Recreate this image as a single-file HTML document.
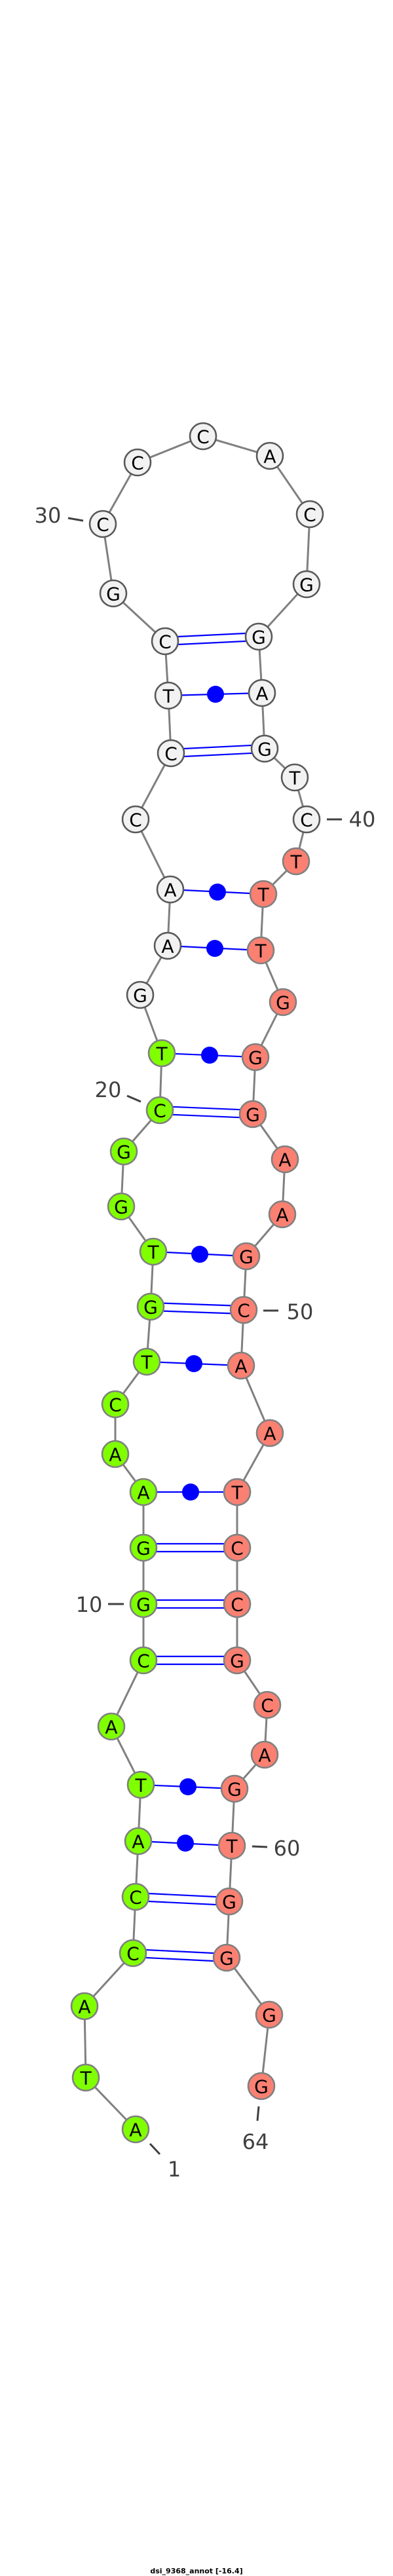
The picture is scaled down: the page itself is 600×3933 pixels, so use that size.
<!DOCTYPE html>
<html><head><meta charset="utf-8"><style>
html,body{margin:0;padding:0;background:#fff}
svg{display:block}
.bb{stroke:#808080;stroke-width:3;fill:none}
.pl{stroke:#0000ff;stroke-width:2.2}
.g{fill:#7fff00;stroke:#808080;stroke-width:2.6}
.w{fill:#f2f2f2;stroke:#595959;stroke-width:2.6}
.r{fill:#fa8072;stroke:#808080;stroke-width:2.6}
.t{font-family:"DejaVu Sans","Liberation Sans",sans-serif;font-size:28px;text-anchor:middle;dominant-baseline:central;fill:#000}
.lb{font-family:"DejaVu Sans","Liberation Sans",sans-serif;font-size:32px;fill:#404040;text-anchor:middle;dominant-baseline:central}
.tk{stroke:#404040;stroke-width:3}
</style></head><body>
<svg width="600" height="3933" viewBox="0 0 600 3933" xmlns="http://www.w3.org/2000/svg">
<polyline class="bb" points="207,3251 131,3172 129,3063 203,2982 207,2896 211,2811 215,2725 170,2636 219,2535 219,2449 219,2363 219,2278 176,2220 176,2144 224,2079 230,1995 234,1911 185,1842 189,1758 244,1695 247,1608 214,1519 256,1444 260,1358 207,1251 261,1150 257,1062 252,979 173,906 157,800 210,706 310,666 412,696 473,785 468,892 395,972 400,1058 404,1143 450,1187 468,1251 452,1315 402,1365 398,1451 432,1530 390,1614 386,1701 435,1770 431,1854 376,1918 372,2000 368,2085 412,2188 362,2278 362,2363 362,2449 362,2535 408,2603 404,2679 358,2731 354,2818 350,2903 346,2989 411,3076 399,3185"/>
<g class="pl">
<line x1="203" y1="2976" x2="346" y2="2983"/><line x1="203" y1="2988" x2="346" y2="2995"/>
<line x1="207" y1="2890" x2="350" y2="2897"/><line x1="207" y1="2902" x2="350" y2="2909"/>
<line x1="219" y1="2529" x2="362" y2="2529"/><line x1="219" y1="2541" x2="362" y2="2541"/>
<line x1="219" y1="2443" x2="362" y2="2443"/><line x1="219" y1="2455" x2="362" y2="2455"/>
<line x1="219" y1="2357" x2="362" y2="2357"/><line x1="219" y1="2369" x2="362" y2="2369"/>
<line x1="230" y1="1989" x2="372" y2="1994"/><line x1="230" y1="2001" x2="372" y2="2006"/>
<line x1="244" y1="1689" x2="386" y2="1695"/><line x1="244" y1="1701" x2="386" y2="1707"/>
<line x1="261" y1="1144" x2="404" y2="1137"/><line x1="261" y1="1156" x2="404" y2="1149"/>
<line x1="252" y1="973" x2="395" y2="966"/><line x1="252" y1="985" x2="395" y2="978"/>
<line x1="211" y1="2811" x2="354" y2="2818"/>
<line x1="215" y1="2725" x2="358" y2="2731"/>
<line x1="219" y1="2278" x2="362" y2="2278"/>
<line x1="224" y1="2079" x2="368" y2="2085"/>
<line x1="234" y1="1911" x2="376" y2="1918"/>
<line x1="247" y1="1608" x2="390" y2="1614"/>
<line x1="256" y1="1444" x2="398" y2="1451"/>
<line x1="260" y1="1358" x2="402" y2="1365"/>
<line x1="257" y1="1062" x2="400" y2="1058"/>
</g>
<g fill="#0000ff">
<circle cx="283" cy="2814" r="13"/><circle cx="287" cy="2728" r="13"/><circle cx="291" cy="2278" r="13"/>
<circle cx="296" cy="2082" r="13"/><circle cx="305" cy="1915" r="13"/><circle cx="320" cy="1611" r="13"/>
<circle cx="328" cy="1448" r="13"/><circle cx="332" cy="1362" r="13"/><circle cx="329" cy="1060" r="13"/>
</g>
<g>
<circle class="g" cx="207" cy="3251" r="20"/><text class="t" x="207" y="3252">A</text>
<circle class="g" cx="131" cy="3172" r="20"/><text class="t" x="131" y="3173">T</text>
<circle class="g" cx="129" cy="3063" r="20"/><text class="t" x="129" y="3064">A</text>
<circle class="g" cx="203" cy="2982" r="20"/><text class="t" x="203" y="2983">C</text>
<circle class="g" cx="207" cy="2896" r="20"/><text class="t" x="207" y="2897">C</text>
<circle class="g" cx="211" cy="2811" r="20"/><text class="t" x="211" y="2812">A</text>
<circle class="g" cx="215" cy="2725" r="20"/><text class="t" x="215" y="2726">T</text>
<circle class="g" cx="170" cy="2636" r="20"/><text class="t" x="170" y="2637">A</text>
<circle class="g" cx="219" cy="2535" r="20"/><text class="t" x="219" y="2536">C</text>
<circle class="g" cx="219" cy="2449" r="20"/><text class="t" x="219" y="2450">G</text>
<circle class="g" cx="219" cy="2363" r="20"/><text class="t" x="219" y="2364">G</text>
<circle class="g" cx="219" cy="2278" r="20"/><text class="t" x="219" y="2279">A</text>
<circle class="g" cx="176" cy="2220" r="20"/><text class="t" x="176" y="2221">A</text>
<circle class="g" cx="176" cy="2144" r="20"/><text class="t" x="176" y="2145">C</text>
<circle class="g" cx="224" cy="2079" r="20"/><text class="t" x="224" y="2080">T</text>
<circle class="g" cx="230" cy="1995" r="20"/><text class="t" x="230" y="1996">G</text>
<circle class="g" cx="234" cy="1911" r="20"/><text class="t" x="234" y="1912">T</text>
<circle class="g" cx="185" cy="1842" r="20"/><text class="t" x="185" y="1843">G</text>
<circle class="g" cx="189" cy="1758" r="20"/><text class="t" x="189" y="1759">G</text>
<circle class="g" cx="244" cy="1695" r="20"/><text class="t" x="244" y="1696">C</text>
<circle class="g" cx="247" cy="1608" r="20"/><text class="t" x="247" y="1609">T</text>
<circle class="w" cx="214" cy="1519" r="20"/><text class="t" x="214" y="1520">G</text>
<circle class="w" cx="256" cy="1444" r="20"/><text class="t" x="256" y="1445">A</text>
<circle class="w" cx="260" cy="1358" r="20"/><text class="t" x="260" y="1359">A</text>
<circle class="w" cx="207" cy="1251" r="20"/><text class="t" x="207" y="1252">C</text>
<circle class="w" cx="261" cy="1150" r="20"/><text class="t" x="261" y="1151">C</text>
<circle class="w" cx="257" cy="1062" r="20"/><text class="t" x="257" y="1063">T</text>
<circle class="w" cx="252" cy="979" r="20"/><text class="t" x="252" y="980">C</text>
<circle class="w" cx="173" cy="906" r="20"/><text class="t" x="173" y="907">G</text>
<circle class="w" cx="157" cy="800" r="20"/><text class="t" x="157" y="801">C</text>
<circle class="w" cx="210" cy="706" r="20"/><text class="t" x="210" y="707">C</text>
<circle class="w" cx="310" cy="666" r="20"/><text class="t" x="310" y="667">C</text>
<circle class="w" cx="412" cy="696" r="20"/><text class="t" x="412" y="697">A</text>
<circle class="w" cx="473" cy="785" r="20"/><text class="t" x="473" y="786">C</text>
<circle class="w" cx="468" cy="892" r="20"/><text class="t" x="468" y="893">G</text>
<circle class="w" cx="395" cy="972" r="20"/><text class="t" x="395" y="973">G</text>
<circle class="w" cx="400" cy="1058" r="20"/><text class="t" x="400" y="1059">A</text>
<circle class="w" cx="404" cy="1143" r="20"/><text class="t" x="404" y="1144">G</text>
<circle class="w" cx="450" cy="1187" r="20"/><text class="t" x="450" y="1188">T</text>
<circle class="w" cx="468" cy="1251" r="20"/><text class="t" x="468" y="1252">C</text>
<circle class="r" cx="452" cy="1315" r="20"/><text class="t" x="452" y="1316">T</text>
<circle class="r" cx="402" cy="1365" r="20"/><text class="t" x="402" y="1366">T</text>
<circle class="r" cx="398" cy="1451" r="20"/><text class="t" x="398" y="1452">T</text>
<circle class="r" cx="432" cy="1530" r="20"/><text class="t" x="432" y="1531">G</text>
<circle class="r" cx="390" cy="1614" r="20"/><text class="t" x="390" y="1615">G</text>
<circle class="r" cx="386" cy="1701" r="20"/><text class="t" x="386" y="1702">G</text>
<circle class="r" cx="435" cy="1770" r="20"/><text class="t" x="435" y="1771">A</text>
<circle class="r" cx="431" cy="1854" r="20"/><text class="t" x="431" y="1855">A</text>
<circle class="r" cx="376" cy="1918" r="20"/><text class="t" x="376" y="1919">G</text>
<circle class="r" cx="372" cy="2000" r="20"/><text class="t" x="372" y="2001">C</text>
<circle class="r" cx="368" cy="2085" r="20"/><text class="t" x="368" y="2086">A</text>
<circle class="r" cx="412" cy="2188" r="20"/><text class="t" x="412" y="2189">A</text>
<circle class="r" cx="362" cy="2278" r="20"/><text class="t" x="362" y="2279">T</text>
<circle class="r" cx="362" cy="2363" r="20"/><text class="t" x="362" y="2364">C</text>
<circle class="r" cx="362" cy="2449" r="20"/><text class="t" x="362" y="2450">C</text>
<circle class="r" cx="362" cy="2535" r="20"/><text class="t" x="362" y="2536">G</text>
<circle class="r" cx="408" cy="2603" r="20"/><text class="t" x="408" y="2604">C</text>
<circle class="r" cx="404" cy="2679" r="20"/><text class="t" x="404" y="2680">A</text>
<circle class="r" cx="358" cy="2731" r="20"/><text class="t" x="358" y="2732">G</text>
<circle class="r" cx="354" cy="2818" r="20"/><text class="t" x="354" y="2819">T</text>
<circle class="r" cx="350" cy="2903" r="20"/><text class="t" x="350" y="2904">G</text>
<circle class="r" cx="346" cy="2989" r="20"/><text class="t" x="346" y="2990">G</text>
<circle class="r" cx="411" cy="3076" r="20"/><text class="t" x="411" y="3077">G</text>
<circle class="r" cx="399" cy="3185" r="20"/><text class="t" x="399" y="3186">G</text>
</g>
<line class="tk" x1="104" y1="791" x2="127" y2="795"/><text class="lb" x="73" y="787">30</text>
<line class="tk" x1="499" y1="1251" x2="522" y2="1251"/><text class="lb" x="553" y="1251">40</text>
<line class="tk" x1="194" y1="1673" x2="215" y2="1682"/><text class="lb" x="165" y="1664">20</text>
<line class="tk" x1="402" y1="2001" x2="425" y2="2001"/><text class="lb" x="458" y="2003">50</text>
<line class="tk" x1="165" y1="2449" x2="189" y2="2449"/><text class="lb" x="136" y="2450">10</text>
<line class="tk" x1="385" y1="2819" x2="408" y2="2820"/><text class="lb" x="438" y="2822">60</text>
<line class="tk" x1="395" y1="3216" x2="393" y2="3238"/><text class="lb" x="390" y="3270">64</text>
<line class="tk" x1="229" y1="3273" x2="244" y2="3289"/><text class="lb" x="266" y="3312">1</text>
<text x="300" y="3929" font-family="'DejaVu Sans','Liberation Sans',sans-serif" font-size="11" font-weight="bold" text-anchor="middle" fill="#000">dsi_9368_annot [-16.4]</text>
</svg>
</body></html>
